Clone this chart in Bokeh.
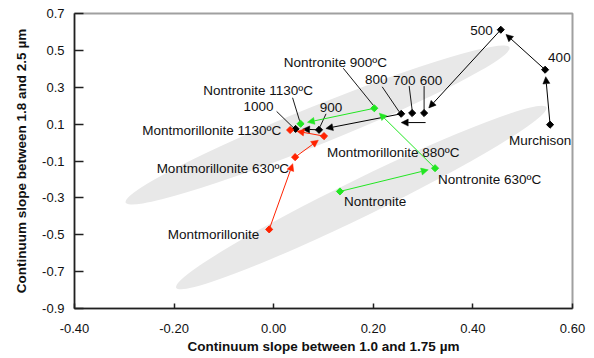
import math
from bokeh.plotting import figure
from bokeh.models import Arrow, NormalHead, FixedTicker, PrintfTickFormatter, Range1d
from bokeh.embed import file_html
from bokeh.resources import INLINE
from bokeh.core.properties import value

# ---------------- data ----------------
murch_labels = ["Murchison", "400", "500", "600", "700", "800", "900", "1000"]
murch_x = [0.555, 0.545, 0.456, 0.302, 0.278, 0.256, 0.091, 0.044]
murch_y = [0.097, 0.395, 0.612, 0.160, 0.160, 0.156, 0.069, 0.074]

nont_labels = ["Nontronite", "Nontronite 630ºC", "Nontronite 900ºC", "Nontronite 1130ºC"]
nont_x = [0.133, 0.324, 0.202, 0.054]
nont_y = [-0.265, -0.139, 0.186, 0.102]

mont_labels = ["Montmorillonite", "Montmorillonite 630ºC", "Montmorillonite 880ºC", "Montmorillonite 1130ºC"]
mont_x = [-0.009, 0.043, 0.101, 0.033]
mont_y = [-0.471, -0.079, 0.035, 0.068]

x_ticks = [-0.4, -0.2, 0.0, 0.2, 0.4, 0.6]
y_ticks = [-0.9, -0.7, -0.5, -0.3, -0.1, 0.1, 0.3, 0.5, 0.7]

# gray field ellipses: centre (data), length/width (px), angle (deg)
ell_x = [0.088, 0.176]
ell_y = [0.095, -0.298]
ell_len = [414, 412]
ell_wid = [38, 37]
ell_ang = [22.0, 26.0]

# ---------------- layout ----------------
W, H = 594, 358
ML, MR, MT, MB = 74, 22, 13, 50
X0, X1, Y0, Y1 = -0.4, 0.6, -0.9, 0.7
FW, FH = W - ML - MR, H - MT - MB
PX_X = FW / (X1 - X0)
PX_Y = FH / (Y1 - Y0)

FONT = "Liberation Sans"
BLACK = "#000000"
RED = "#ff2200"
GREEN = "#22e622"

p = figure(width=W, height=H, x_range=Range1d(X0, X1), y_range=Range1d(Y0, Y1),
           output_backend="svg", toolbar_location=None,
           min_border_left=ML, min_border_right=MR, min_border_top=MT, min_border_bottom=MB)
p.grid.visible = False
p.outline_line_color = "#a0a0a0"
p.outline_line_width = 2
p.background_fill_color = "white"
p.border_fill_color = "white"

for ax in (p.xaxis[0], p.yaxis[0]):
    ax.axis_line_color = "#202020"
    ax.axis_line_width = 1.5
    ax.major_tick_line_color = "#202020"
    ax.major_tick_line_width = 1.5
    ax.minor_tick_line_color = None
    ax.major_tick_out = 0
    ax.major_label_text_font = FONT
    ax.major_label_text_font_size = "13px"
    ax.major_label_text_color = "#111111"
    ax.axis_label_text_font = FONT
    ax.axis_label_text_font_size = "13.5px"
    ax.axis_label_text_font_style = "bold"
    ax.axis_label_text_color = "#111111"

p.xaxis.ticker = FixedTicker(ticks=x_ticks)
p.xaxis.formatter = PrintfTickFormatter(format="%.2f")
p.xaxis.major_tick_in = 5
p.xaxis.major_label_standoff = 15
p.xaxis.axis_label_standoff = 3
p.xaxis.axis_label = "Continuum slope between 1.0 and 1.75 µm"

p.yaxis.ticker = FixedTicker(ticks=y_ticks)
p.yaxis.formatter = PrintfTickFormatter(format="%.1f")
p.yaxis.major_tick_in = 9
p.yaxis.major_label_standoff = 10
p.yaxis.axis_label_standoff = 10
p.yaxis.axis_label = "Continuum slope between 1.8 and 2.5 µm"

# ellipses
p.ellipse(x=ell_x, y=ell_y, width=ell_len, height=ell_wid, angle=ell_ang,
          width_units="screen", height_units="screen", angle_units="deg",
          fill_color="#e8e8e8", line_color=None)


def shorten(x0, y0, x1, y1, gap):
    dxp = (x1 - x0) * PX_X
    dyp = (y1 - y0) * PX_Y
    L = math.hypot(dxp, dyp)
    f = gap / L
    return x1 - (x1 - x0) * f, y1 - (y1 - y0) * f


def add_arrow(x0, y0, x1, y1, color, gap=7):
    ex, ey = shorten(x0, y0, x1, y1, gap)
    p.add_layout(Arrow(end=NormalHead(size=7, fill_color=color, line_color=color, line_width=0.5),
                       x_start=x0, y_start=y0, x_end=ex, y_end=ey,
                       line_color=color, line_width=1.0))


# black path
for a, b in [(0, 1), (1, 2), (2, 3), (5, 6), (6, 7)]:
    add_arrow(murch_x[a], murch_y[a], murch_x[b], murch_y[b], BLACK)
# direction arrow drawn below 600-700-800
ya = murch_y[3] - 9.5 / PX_Y
add_arrow(murch_x[3] + 1.5 / PX_X, ya, murch_x[5], ya, BLACK, gap=0.01)

for a, b in [(0, 1), (1, 2), (2, 3)]:
    add_arrow(nont_x[a], nont_y[a], nont_x[b], nont_y[b], GREEN)
    add_arrow(mont_x[a], mont_y[a], mont_x[b], mont_y[b], RED)

# leader lines: (series, index, start dx, start dy, end dx, end dy) in px (dy down)
leaders = [
    ("m", 3, 0, -27, 0, -3),
    ("m", 4, -3, -27, 0, -3),
    ("m", 5, -19, -27, -2, -2),
    ("n", 2, -31, -40, -1, -3),
    ("n", 3, -8, -26, -1, -3),
    ("m", 7, -19, -17.5, -2, -1),
    ("m", 6, 7, -16, 1, -3),
]
series = {"m": (murch_x, murch_y), "n": (nont_x, nont_y), "r": (mont_x, mont_y)}
for s, i, sdx, sdy, edx, edy in leaders:
    xs, ys = series[s]
    x, y = xs[i], ys[i]
    p.line(x=[x + sdx / PX_X, x + edx / PX_X], y=[y - sdy / PX_Y, y - edy / PX_Y],
           line_color=BLACK, line_width=0.9)

# markers
p.scatter(x=murch_x, y=murch_y, marker="square", angle=math.pi / 4, size=5,
          fill_color=BLACK, line_color=BLACK)
p.scatter(x=nont_x, y=nont_y, marker="square", angle=math.pi / 4, size=5,
          fill_color=GREEN, line_color=GREEN)
p.scatter(x=mont_x, y=mont_y, marker="square", angle=math.pi / 4, size=5,
          fill_color=RED, line_color=RED)

# labels: (series, index, align, dx, dy) offsets in px (dy down)
label_specs = [
    ("m", 0, "center", -10, 16),
    ("m", 1, "left", 3, -12),
    ("m", 2, "right", -8, 1),
    ("m", 3, "center", 7, -33),
    ("m", 4, "center", -8, -33),
    ("m", 5, "center", -25, -34),
    ("m", 6, "center", 12, -22),
    ("m", 7, "center", -37, -22.5),
    ("n", 0, "left", 4, 10),
    ("n", 1, "left", 3, 11),
    ("n", 2, "center", -39, -46),
    ("n", 3, "center", -42.5, -33),
    ("r", 0, "right", -10, 5),
    ("r", 1, "right", -6, 11),
    ("r", 2, "left", 3, 16),
    ("r", 3, "right", -9, 0),
]
texts = {"m": murch_labels, "n": nont_labels, "r": mont_labels}
for s, i, align, dx, dy in label_specs:
    xs, ys = series[s]
    p.text(x=[xs[i] + dx / PX_X], y=[ys[i] - dy / PX_Y], text=[texts[s][i]],
           text_font=value(FONT), text_font_size="13.5px", text_color="#111111",
           text_align=align, text_baseline="middle")

open("out.html", "w").write(file_html(p, INLINE))
